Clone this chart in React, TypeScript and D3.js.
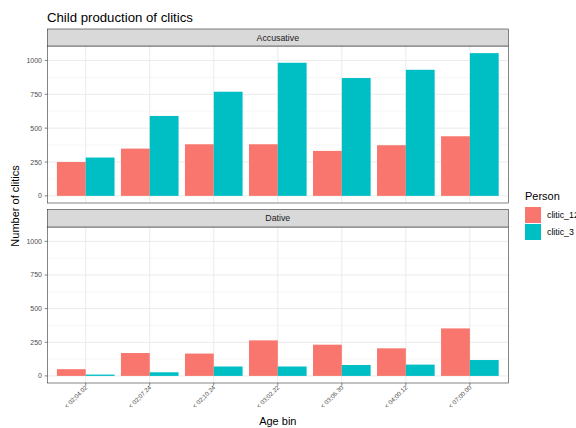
import React from "react";
import * as d3 from "d3";

const categories = ["< 02;04.02", "< 02;07.24", "< 02;10.24", "< 03;02.22", "< 03;06.30", "< 04;00.12", "< 07;00.00"];
const series = ["clitic_12", "clitic_3"];
const colors = ["#F8766D", "#00BFC4"];
const accusative12 = [250, 349, 381, 381, 332, 374, 440];
const accusative3 = [283, 590, 769, 983, 870, 931, 1054];
const dative12 = [50, 170, 166, 264, 232, 205, 353];
const dative3 = [10, 27, 70, 70, 81, 84, 118];
const yTicks = [0, 250, 500, 750, 1000];
const panels = [
  { name: "Accusative", values: [accusative12, accusative3] },
  { name: "Dative", values: [dative12, dative3] },
];

const W = 576, H = 428;
const left = 47.3, right = 508.3;
const panelGeom = [
  { stripTop: 29, stripBot: 46, bottom: 203 },
  { stripTop: 209.5, stripBot: 227, bottom: 383 },
];

export default function App() {
  const x = d3.scaleBand<string>().domain(categories).range([left, right]).paddingOuter(0.1).paddingInner(0);
  const step = x.step();
  const cx = (c: string) => (x(c) as number) + step / 2;
  const xs = d3.scaleBand<string>().domain(series).range([-0.45 * step, 0.45 * step]);
  const maxV = d3.max([...accusative3, ...accusative12, ...dative12, ...dative3]) as number;
  const lo = -0.05 * maxV, hi = maxV * 1.05;
  const minorTicks = [125, 375, 625, 875];
  return (
    <svg width={W} height={H} style={{ position: "absolute", left: 0, top: 0, fontFamily: "Liberation Sans, Arial, sans-serif" }}>
      <rect width={W} height={H} fill="white" />
      <text x={47} y={22} fontSize={13.2} fill="#000">Child production of clitics</text>
      {panels.map((p, pi) => {
        const g = panelGeom[pi];
        const y = d3.scaleLinear().domain([lo, hi]).range([g.bottom, g.stripBot]);
        return (
          <g key={p.name}>
            {minorTicks.map((t) => (
              <line key={"m" + t} x1={left} x2={right} y1={y(t)} y2={y(t)} stroke="#F2F2F2" strokeWidth={0.6} />
            ))}
            {yTicks.map((t) => (
              <line key={"g" + t} x1={left} x2={right} y1={y(t)} y2={y(t)} stroke="#EBEBEB" strokeWidth={1} />
            ))}
            {categories.map((c) => (
              <line key={"v" + c} x1={cx(c)} x2={cx(c)} y1={g.stripBot} y2={g.bottom} stroke="#EBEBEB" strokeWidth={1} />
            ))}
            {p.values.map((vals, si) =>
              vals.map((v, i) => (
                <rect key={si + "-" + i} x={cx(categories[i]) + (xs(series[si]) as number)} width={xs.bandwidth()} y={y(v)} height={y(0) - y(v)} fill={colors[si]} />
              ))
            )}
            <rect x={left} y={g.stripBot} width={right - left} height={g.bottom - g.stripBot} fill="none" stroke="#333" strokeWidth={0.6} />
            <rect x={left} y={g.stripTop} width={right - left} height={g.stripBot - g.stripTop} fill="#D9D9D9" stroke="#333" strokeWidth={0.6} />
            <text x={(left + right) / 2} y={(g.stripTop + g.stripBot) / 2 + 3} textAnchor="middle" fontSize={8.8} fill="#1A1A1A">{p.name}</text>
            {yTicks.map((t) => (
              <g key={"t" + t}>
                <line x1={left - 2.7} x2={left} y1={y(t)} y2={y(t)} stroke="#333" strokeWidth={0.6} />
                <text x={left - 5.3} y={y(t) + 2.5} textAnchor="end" fontSize={7} fill="#4D4D4D">{t}</text>
              </g>
            ))}
          </g>
        );
      })}
      {categories.map((c) => (
        <g key={"x" + c}>
          <line x1={cx(c)} x2={cx(c)} y1={383} y2={385.7} stroke="#333" strokeWidth={0.6} />
          <text transform={`translate(${cx(c) + 2},${388}) rotate(-45)`} textAnchor="end" fontSize={6.2} fill="#4D4D4D">{c}</text>
        </g>
      ))}
      <text x={(left + right) / 2} y={425} textAnchor="middle" fontSize={11} fill="#000">Age bin</text>
      <text transform={`translate(19,${(29 + 383) / 2}) rotate(-90)`} textAnchor="middle" fontSize={11} fill="#000">Number of clitics</text>
      <text x={525} y={200} fontSize={11} fill="#000">Person</text>
      {series.map((s, i) => (
        <g key={s}>
          <rect x={525} y={207 + i * 17} width={16} height={16} fill={colors[i]} />
          <text x={547} y={218 + i * 17} fontSize={8.8} fill="#000">{s}</text>
        </g>
      ))}
    </svg>
  );
}
